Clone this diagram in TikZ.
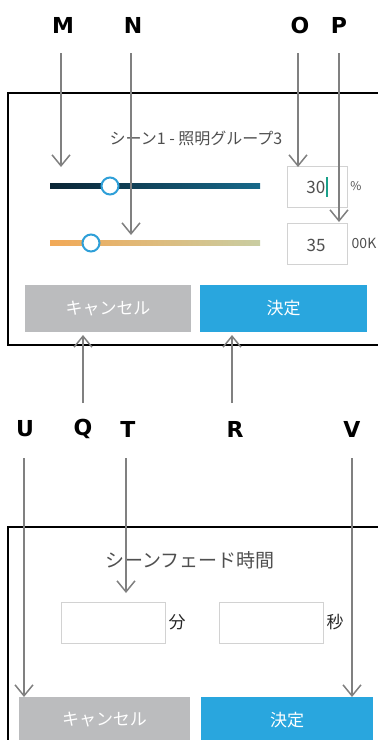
\documentclass[tikz,border=0pt]{standalone}
\usepackage{fontspec}
\newfontfamily\jpfont{Noto Sans CJK JP}
\newfontfamily\lblfont{DejaVu Sans}
\usepackage{xcolor}
\usepackage{tikz}
\usetikzlibrary{arrows.meta}
\definecolor{arrowgray}{HTML}{808080}
\definecolor{captiongray}{HTML}{4F4F4F}
\definecolor{fieldgray}{HTML}{D2D2D2}
\definecolor{knobblue}{HTML}{2E9FD8}
\definecolor{cancelgray}{HTML}{BBBCBE}
\definecolor{okblue}{HTML}{29A6DE}
\definecolor{dimdark}{HTML}{0B2535}
\definecolor{dimlight}{HTML}{17698A}
\definecolor{warmend}{HTML}{F2A957}
\definecolor{coolend}{HTML}{C9CDA2}
\definecolor{cursorteal}{HTML}{1AA08A}

\begin{document}
\begin{tikzpicture}[x=1pt, y=-1pt,
    lbl/.style={font=\lblfont\bfseries\fontsize{22}{24}\selectfont},
    pointer/.style={draw=arrowgray, line width=1.5pt, -{Straight Barb[length=11pt,width=18pt]}},
    frame/.style={line width=1.6pt},
    caption/.style={text=captiongray, font=\jpfont\fontsize{#1}{#1}\selectfont},
    field/.style={draw=fieldgray, line width=1pt, fill=white, minimum height=41pt, inner sep=0pt},
    btn/.style={minimum height=47pt, inner sep=0pt, text=white, font=\jpfont\fontsize{17}{18}\selectfont},
    knob/.style={circle, draw=knobblue, fill=white, line width=2pt, minimum size=17pt, inner sep=0pt}]
    \useasboundingbox (0,0) rectangle (378,740);

    % Letter labels
    \node[lbl] (lblM) at (63,25) {M};
    \node[lbl] (lblN) at (133,25) {N};
    \node[lbl] (lblO) at (300,25) {O};
    \node[lbl] (lblP) at (339,25) {P};
    \node[lbl] (lblU) at (25,429) {U};
    \node[lbl] (lblQ) at (83,429) {Q};
    \node[lbl] (lblT) at (128,429) {T};
    \node[lbl] (lblR) at (235,429) {R};
    \node[lbl] (lblV) at (352,429) {V};

    % Scene / lighting group dialog
    \draw[frame] (378,93) -- (8,93) -- (8,345) -- (378,345);
    \node[caption=16] (scene) at (196,138) {シーン1 - 照明グループ3};

    \fill[left color=dimdark, right color=dimlight] (50,183.5) rectangle (260,188.5);
    \node[knob] (dimknob) at (110,186) {};
    \node[field, minimum width=60pt] (dimfield) at (317,186.5) {};
    \node[anchor=east, inner sep=0pt, caption=17] (dimval) at (325.5,187) {30};
    \draw[cursorteal, line width=1.5pt] (327,177) -- (327,197);
    \node[caption=12] (pct) at (356,186) {\%};

    \fill[left color=warmend, right color=coolend] (50,240.5) rectangle (260,245.5);
    \node[knob] (tempknob) at (91,243) {};
    \node[field, minimum width=60pt] (tempfield) at (317,243.5) {};
    \node[caption=17] (tempval) at (316,245) {35};
    \node[caption=14] (kelvin) at (364,243) {00K};

    \node[btn, fill=cancelgray, minimum width=166pt] (cancel) at (108,308.5) {キャンセル};
    \node[btn, fill=okblue, minimum width=167pt] (ok) at (283.5,308.5) {決定};

    % Fade time dialog
    \draw[frame] (378,527) -- (8,527) -- (8,740);
    \node[caption=19] (fade) at (190,560) {シーンフェード時間};
    \node[field, minimum width=104pt] (minfield) at (113,622.5) {};
    \node[font=\jpfont\fontsize{17}{17}\selectfont, text=black!85] (minunit) at (177,622) {分};
    \node[field, minimum width=104pt] (secfield) at (271,622.5) {};
    \node[font=\jpfont\fontsize{17}{17}\selectfont, text=black!85] (secunit) at (335,622) {秒};

    \node[btn, fill=cancelgray, minimum width=171pt] (fcancel) at (104.5,720) {キャンセル};
    \node[btn, fill=okblue, minimum width=172pt] (fok) at (287,720) {決定};

    % Pointer ends
    \coordinate (mtop) at (61,53);   \coordinate (mtip) at (61,167);
    \coordinate (ntop) at (131,53);  \coordinate (ntip) at (131,235);
    \coordinate (otop) at (298,53);  \coordinate (otip) at (298,167);
    \coordinate (ptop) at (339,53);  \coordinate (ptip) at (339,222);
    \coordinate (qbot) at (83,403);  \coordinate (qtip) at (83,335);
    \coordinate (rbot) at (232,403); \coordinate (rtip) at (232,335);
    \coordinate (utop) at (24,458);  \coordinate (utip) at (24,697);
    \coordinate (ttop) at (126,458); \coordinate (ttip) at (126,593);
    \coordinate (vtop) at (352,458); \coordinate (vtip) at (352,697);

    % Pointers
    \draw[pointer] (mtop) -- (mtip);
    \draw[pointer] (ntop) -- (ntip);
    \draw[pointer] (otop) -- (otip);
    \draw[pointer] (ptop) -- (ptip);
    \draw[pointer] (qbot) -- (qtip);
    \draw[pointer] (rbot) -- (rtip);
    \draw[pointer] (utop) -- (utip);
    \draw[pointer] (ttop) -- (ttip);
    \draw[pointer] (vtop) -- (vtip);
\end{tikzpicture}
\end{document}
